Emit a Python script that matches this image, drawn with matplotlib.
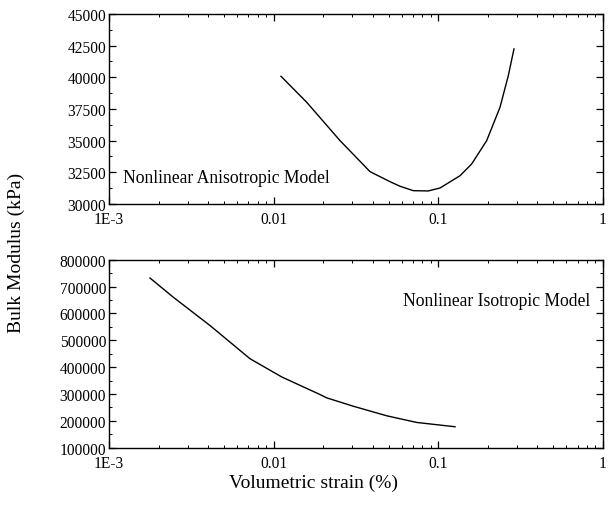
import matplotlib
matplotlib.use("Agg")
import matplotlib.pyplot as plt
from matplotlib.ticker import FixedLocator, FixedFormatter, MultipleLocator, LogLocator, NullFormatter

plt.rcParams['font.family'] = ['Liberation Serif', 'DejaVu Serif']

# anisotropic model: bulk modulus vs volumetric strain
aniso_strain = [0.01108, 0.01587, 0.0253, 0.0385, 0.0509, 0.0585, 0.0705, 0.0869,
                0.1023, 0.1354, 0.1594, 0.1966, 0.2368, 0.266, 0.288]
aniso_k = [40080, 38030, 35000, 32550, 31760, 31400, 31050, 31030,
           31260, 32230, 33160, 35000, 37630, 40130, 42240]

# isotropic model
iso_strain = [0.001774, 0.002457, 0.004105, 0.00718, 0.01119, 0.01912, 0.0210,
              0.03046, 0.0486, 0.0739, 0.1262]
iso_k = [732000, 660500, 555100, 431500, 363600, 298000, 285700,
         254500, 218900, 194100, 178100]

x_ticks = [1e-3, 1e-2, 1e-1, 1]
x_labels = ['1E-3', '0.01', '0.1', '1']

fig = plt.figure(figsize=(6.14, 5.06), dpi=100)
ax1 = fig.add_axes([0.1775, 0.5949, 0.8046, 0.3755])
ax2 = fig.add_axes([0.1775, 0.1132, 0.8046, 0.3715])


def style_axis(ax):
    ax.set_xscale('log')
    ax.set_xlim(1e-3, 1)
    ax.xaxis.set_major_locator(FixedLocator(x_ticks))
    ax.xaxis.set_major_formatter(FixedFormatter(x_labels))
    ax.xaxis.set_minor_locator(LogLocator(base=10, subs=range(2, 10)))
    ax.xaxis.set_minor_formatter(NullFormatter())
    ax.tick_params(which='both', direction='in', top=True, right=True, labelsize=11.2)
    ax.tick_params(which='major', length=5, width=0.9)
    ax.tick_params(which='minor', length=2.5, width=0.7)
    ax.tick_params(axis='x', pad=5)
    ax.tick_params(axis='y', pad=2)
    for s in ax.spines.values():
        s.set_linewidth(1.0)


ax1.plot(aniso_strain, aniso_k, color='black', lw=1.0)
style_axis(ax1)
ax1.set_ylim(30000, 45000)
ax1.yaxis.set_major_locator(MultipleLocator(2500))
ax1.yaxis.set_minor_locator(MultipleLocator(1250))
ax1.text(0.028, 0.142, 'Nonlinear Anisotropic Model', transform=ax1.transAxes,
         fontsize=12.7, ha='left', va='center')

ax2.plot(iso_strain, iso_k, color='black', lw=1.0)
style_axis(ax2)
ax2.set_ylim(100000, 800000)
ax2.yaxis.set_major_locator(MultipleLocator(100000))
ax2.yaxis.set_minor_locator(MultipleLocator(50000))
ax2.text(0.974, 0.782, 'Nonlinear Isotropic Model', transform=ax2.transAxes,
         fontsize=12.7, ha='right', va='center')

fig.text(0.51, 0.045, 'Volumetric strain (%)', ha='center', va='center', fontsize=14)
fig.text(0.026, 0.5, 'Bulk Modulus (kPa)', ha='center', va='center',
         rotation=90, fontsize=14)

fig.savefig('out.png', dpi=100)
